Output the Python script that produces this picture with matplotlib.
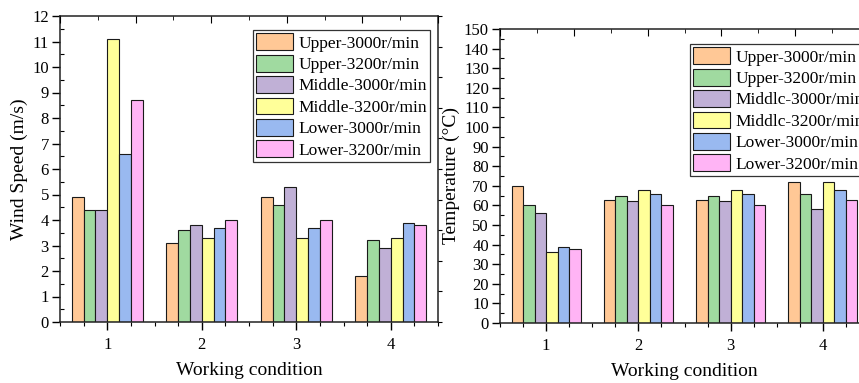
import matplotlib
matplotlib.use("Agg")
import matplotlib.pyplot as plt
import numpy as np
from matplotlib.ticker import MultipleLocator

plt.rcParams["font.family"] = ["Liberation Serif", "DejaVu Serif"]

conditions = [1, 2, 3, 4]
series = ["Upper-3000r/min", "Upper-3200r/min", "Middle-3000r/min",
          "Middle-3200r/min", "Lower-3000r/min", "Lower-3200r/min"]
series_temp = ["Upper-3000r/min", "Upper-3200r/min", "Middlc-3000r/min",
               "Middlc-3200r/min", "Lower-3000r/min", "Lower-3200r/min"]
colors = ["#FFC896", "#A0DAA0", "#C0B0D6", "#FFFF99", "#99B9F0", "#FFB4F5"]

# wind speed (m/s), one list per series, values for conditions 1..4
upper_3000_ws = [4.9, 3.1, 4.9, 1.8]
upper_3200_ws = [4.4, 3.6, 4.6, 3.2]
middle_3000_ws = [4.4, 3.8, 5.3, 2.9]
middle_3200_ws = [11.1, 3.3, 3.3, 3.3]
lower_3000_ws = [6.6, 3.7, 3.7, 3.9]
lower_3200_ws = [8.7, 4.0, 4.0, 3.8]

# temperature (deg C)
upper_3000_t = [70, 63, 63, 72]
upper_3200_t = [60, 65, 65, 66]
middle_3000_t = [56, 62, 62, 58]
middle_3200_t = [36, 68, 68, 72]
lower_3000_t = [39, 66, 66, 68]
lower_3200_t = [38, 60, 60, 63]

wind = [upper_3000_ws, upper_3200_ws, middle_3000_ws,
        middle_3200_ws, lower_3000_ws, lower_3200_ws]
temp = [upper_3000_t, upper_3200_t, middle_3000_t,
        middle_3200_t, lower_3000_t, lower_3200_t]

W, H = 859, 383
fig = plt.figure(figsize=(W / 100, H / 100), dpi=100)


def draw_panel(ax, data, labels, ymax, ymajor, yminor, ylabel, legend_anchor):
    x = np.array(conditions, dtype=float)
    width = 0.125
    for i, (vals, lab, col) in enumerate(zip(data, labels, colors)):
        ax.bar(x + (i - 2.5) * width, vals, width, color=col, edgecolor="#1a1a1a",
               linewidth=0.8, label=lab, zorder=2)
    ax.set_xlim(0.5, 4.5)
    ax.set_ylim(0, ymax)
    ax.set_xticks(conditions)
    ax.xaxis.set_minor_locator(MultipleLocator(0.25))
    ax.yaxis.set_major_locator(MultipleLocator(ymajor))
    ax.yaxis.set_minor_locator(MultipleLocator(yminor))
    ax.tick_params(which="major", direction="out", length=6, width=1.0, labelsize=12,
                   pad=2, top=False, right=False)
    ax.tick_params(which="minor", direction="out", length=3, width=0.8,
                   top=False, right=False)
    ax.tick_params(axis="y", which="minor", direction="in")
    ax.tick_params(axis="x", which="major", pad=5)
    for sp in ax.spines.values():
        sp.set_linewidth(1.1)
        sp.set_color("#222222")
    ax.set_xlabel("Working condition", fontsize=14, labelpad=6)
    ax.set_ylabel(ylabel, fontsize=14, labelpad=3)

    # Origin-style mirrored axes with their own 0-10 scale
    top = ax.twiny()
    top.set_xlim(0, 10)
    top.xaxis.set_major_locator(MultipleLocator(2))
    top.xaxis.set_minor_locator(MultipleLocator(1))
    top.tick_params(axis="x", which="major", direction="in", length=5, labeltop=False)
    top.tick_params(axis="x", which="minor", direction="in", length=3)
    right = ax.twinx()
    right.set_ylim(0, 10)
    right.yaxis.set_major_locator(MultipleLocator(1))
    right.tick_params(axis="y", which="major", direction="out", length=3, labelright=False)
    for a in (top, right):
        for sp in a.spines.values():
            sp.set_visible(False)

    handles, labs = ax.get_legend_handles_labels()
    leg = right.legend(handles, labs, loc="upper left", bbox_to_anchor=legend_anchor,
                       bbox_transform=fig.transFigure, fontsize=12.5, frameon=True,
                       fancybox=False, edgecolor="#333333", framealpha=1,
                       handlelength=2.1, handleheight=1.1, handletextpad=0.3,
                       labelspacing=0.18, borderpad=0.2, borderaxespad=0)
    leg.get_frame().set_linewidth(0.9)


ax1 = fig.add_axes([60 / W, (H - 322) / H, 378 / W, 306 / H])
draw_panel(ax1, wind, series, 12, 1, 0.5, "Wind Speed (m/s)", (253 / W, 1 - 30 / H))

ax2 = fig.add_axes([500 / W, (H - 323) / H, 369 / W, 294 / H])
draw_panel(ax2, temp, series_temp, 150, 10, 5, "Temperature (°C)", (690 / W, 1 - 44 / H))

fig.savefig("out.png", dpi=100)
